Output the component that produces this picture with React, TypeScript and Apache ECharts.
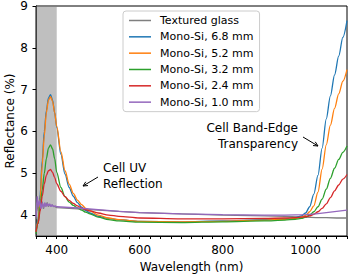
import React, { useEffect, useRef } from "react";
import * as echarts from "echarts";

const wlMono = [350, 355, 360, 365, 370, 375, 380, 385, 390, 395, 400, 410, 420, 430, 440, 450, 460, 470, 480, 500, 525, 550, 600, 700, 800, 900, 950, 975, 990, 1000, 1010, 1020, 1030, 1040, 1050, 1060, 1070, 1080, 1090, 1100];
const wlFlat = [350, 353, 356, 359, 362, 365, 368, 371, 374, 377, 380, 383, 386, 389, 392, 396, 400, 450, 500, 550, 600, 700, 800, 900, 950, 1000, 1025, 1050, 1075, 1100];

const glass = [3.9, 4.3, 4.1, 4.38, 4.2, 4.32, 4.15, 4.28, 4.22, 4.3, 4.2, 4.25, 4.22, 4.24, 4.21, 4.2, 4.18, 4.15, 4.12, 4.09, 4.06, 4.03, 4.0, 3.98, 3.97, 3.95, 3.94, 3.94, 3.93, 3.93];
const si68 = [3.6, 3.9, 4.5, 5.3, 6.0, 6.5, 6.8, 6.88, 6.75, 6.45, 6.1, 5.45, 4.98, 4.66, 4.45, 4.3, 4.19, 4.11, 4.05, 3.97, 3.92, 3.89, 3.85, 3.84, 3.86, 3.89, 3.91, 3.94, 3.98, 4.05, 4.2, 4.5, 4.95, 5.6, 6.3, 6.85, 7.35, 7.8, 8.25, 8.65];
const si52 = [3.6, 3.85, 4.4, 5.2, 5.9, 6.45, 6.75, 6.83, 6.72, 6.45, 6.12, 5.52, 5.06, 4.74, 4.52, 4.36, 4.25, 4.16, 4.1, 4.0, 3.93, 3.89, 3.85, 3.84, 3.85, 3.88, 3.9, 3.92, 3.95, 3.99, 4.08, 4.22, 4.55, 5.1, 5.68, 6.15, 6.55, 6.9, 7.2, 7.48];
const si32 = [3.55, 3.8, 4.2, 4.6, 5.0, 5.35, 5.6, 5.68, 5.58, 5.35, 5.02, 4.66, 4.44, 4.31, 4.23, 4.17, 4.12, 4.07, 4.03, 3.95, 3.89, 3.86, 3.83, 3.82, 3.84, 3.86, 3.88, 3.9, 3.92, 3.95, 4.0, 4.08, 4.2, 4.38, 4.62, 4.88, 5.12, 5.33, 5.5, 5.65];
const si24 = [3.6, 3.8, 4.1, 4.45, 4.75, 4.95, 5.06, 5.09, 5.02, 4.9, 4.75, 4.57, 4.44, 4.35, 4.28, 4.22, 4.17, 4.13, 4.1, 4.05, 4.0, 3.97, 3.93, 3.91, 3.91, 3.92, 3.93, 3.94, 3.95, 3.96, 3.98, 4.02, 4.08, 4.16, 4.27, 4.42, 4.58, 4.72, 4.86, 4.97];
const si10 = [3.95, 4.45, 4.2, 4.35, 4.15, 4.3, 4.18, 4.3, 4.2, 4.28, 4.22, 4.27, 4.2, 4.25, 4.2, 4.22, 4.2, 4.17, 4.13, 4.09, 4.06, 4.03, 4.01, 4.0, 4.0, 4.01, 4.03, 4.06, 4.09, 4.12];

const seriesNames = ["Textured glass", "Mono-Si, 6.8 mm", "Mono-Si, 5.2 mm", "Mono-Si, 3.2 mm", "Mono-Si, 2.4 mm", "Mono-Si, 1.0 mm"];
const colors = ["#7f7f7f", "#1f77b4", "#ff7f0e", "#2ca02c", "#d62728", "#9467bd"];
const yTicks = [4, 5, 6, 7, 8, 9];
const xLabels = [400, 600, 800, 1000];
const shadedRange = [350, 400];

const FONT = "DejaVu Sans";

function zip(xs: number[], ys: number[]) {
  return xs.map((x, i) => [x, ys[i]]);
}

export default function App() {
  const ref = useRef<HTMLDivElement>(null);
  useEffect(() => {
    const chart = echarts.init(ref.current!, null, { renderer: "svg" });
    const seriesData = [
      zip(wlFlat, glass),
      zip(wlMono, si68),
      zip(wlMono, si52),
      zip(wlMono, si32),
      zip(wlMono, si24),
      zip(wlFlat, si10),
    ];
    const lineSeries = seriesData.map((d, i) => ({
      type: "line",
      name: seriesNames[i],
      data: d,
      showSymbol: false,
      symbol: "none",
      smooth: i === 0 || i === 5 ? false : 0.3,
      smoothMonotone: "x",
      lineStyle: { color: colors[i], width: 1.3 },
      itemStyle: { color: colors[i] },
      z: 2,
    }));
    const arrowHead = (tx: number, ty: number, fx: number, fy: number) => {
      const ang = Math.atan2(ty - fy, tx - fx);
      const L = 5;
      const a1 = ang + Math.PI - 0.45;
      const a2 = ang + Math.PI + 0.45;
      return [
        [tx + L * Math.cos(a1), ty + L * Math.sin(a1)],
        [tx, ty],
        [tx + L * Math.cos(a2), ty + L * Math.sin(a2)],
      ];
    };
    chart.setOption({
      animation: false,
      backgroundColor: "#ffffff",
      textStyle: { fontFamily: FONT },
      grid: {
        left: 36,
        right: 1,
        top: 6,
        bottom: 41,
        show: true,
        borderColor: "#000",
        borderWidth: 1,
        backgroundColor: "transparent",
        containLabel: false,
        outerBoundsMode: "none",
      },
      legend: {
        orient: "vertical",
        left: 123,
        top: 11,
        padding: [4, 6, 4, 6],
        itemWidth: 22,
        itemHeight: 1.5,
        itemGap: 5.33,
        icon: "rect",
        backgroundColor: "rgba(255,255,255,0.8)",
        borderColor: "#cccccc",
        borderWidth: 1,
        borderRadius: 3,
        data: seriesNames,
        textStyle: {
          fontFamily: FONT,
          fontSize: 11,
          lineHeight: 11,
          color: "#000",
          padding: [0, 0, 0, 4],
        },
        z: 10,
      },
      xAxis: {
        type: "value",
        min: 350,
        max: 1100,
        interval: 25,
        name: "Wavelength (nm)",
        nameLocation: "middle",
        nameGap: 25,
        nameTextStyle: { fontFamily: FONT, fontSize: 12, color: "#000" },
        axisLine: { show: true, lineStyle: { color: "#000", width: 1 } },
        axisTick: { show: true, length: 3, lineStyle: { color: "#000", width: 1 } },
        axisLabel: {
          fontFamily: FONT,
          fontSize: 12,
          color: "#000",
          margin: 8,
          formatter: (v: number) => (xLabels.includes(v) ? String(v) : ""),
        },
        splitLine: { show: false },
      },
      yAxis: {
        type: "value",
        min: 3.5,
        max: 9,
        name: "Reflectance (%)",
        nameLocation: "middle",
        nameGap: 20,
        nameMoveOverlap: false,
        nameTextStyle: { fontFamily: FONT, fontSize: 12, color: "#000" },
        axisLine: { show: true, lineStyle: { color: "#000", width: 1 } },
        axisTick: { show: true, length: 3.5, customValues: yTicks, lineStyle: { color: "#000", width: 1 } },
        axisLabel: {
          fontFamily: FONT,
          fontSize: 12,
          lineHeight: 10,
          color: "#000",
          margin: 8,
          customValues: yTicks,
          formatter: (v: number) => String(v),
        },
        splitLine: { show: false },
      },
      series: [
        ...lineSeries,
        {
          type: "line",
          name: "shade",
          data: [],
          z: 5,
          silent: true,
          markArea: {
            silent: true,
            itemStyle: { color: "rgba(128,128,128,0.5)" },
            data: [[{ xAxis: shadedRange[0] }, { xAxis: shadedRange[1] }]],
          },
        },
      ],
      graphic: [
        {
          type: "text",
          left: 103,
          top: 160,
          style: {
            text: "Cell UV\nReflection",
            font: `12px "${FONT}"`,
            fill: "#000",
            lineHeight: 16,
          },
          z: 20,
        },
        {
          type: "line",
          shape: { x1: 98, y1: 177, x2: 83, y2: 186 },
          style: { stroke: "#000", lineWidth: 1 },
          z: 20,
        },
        {
          type: "polyline",
          shape: { points: arrowHead(83, 186, 98, 177) },
          style: { stroke: "#000", lineWidth: 1, fill: null },
          z: 20,
        },
        {
          type: "text",
          x: 298,
          y: 120,
          style: {
            text: "Cell Band-Edge\nTransparency",
            font: `12px "${FONT}"`,
            fill: "#000",
            align: "right",
            lineHeight: 16,
          },
          z: 20,
        },
        {
          type: "line",
          shape: { x1: 303, y1: 137, x2: 318, y2: 146 },
          style: { stroke: "#000", lineWidth: 1 },
          z: 20,
        },
        {
          type: "polyline",
          shape: { points: arrowHead(318, 146, 303, 137) },
          style: { stroke: "#000", lineWidth: 1, fill: null },
          z: 20,
        },
      ],
    });
    return () => chart.dispose();
  }, []);
  return (
    <div
      ref={ref}
      style={{ position: "fixed", left: 0, top: 0, width: 348, height: 277 }}
    />
  );
}
